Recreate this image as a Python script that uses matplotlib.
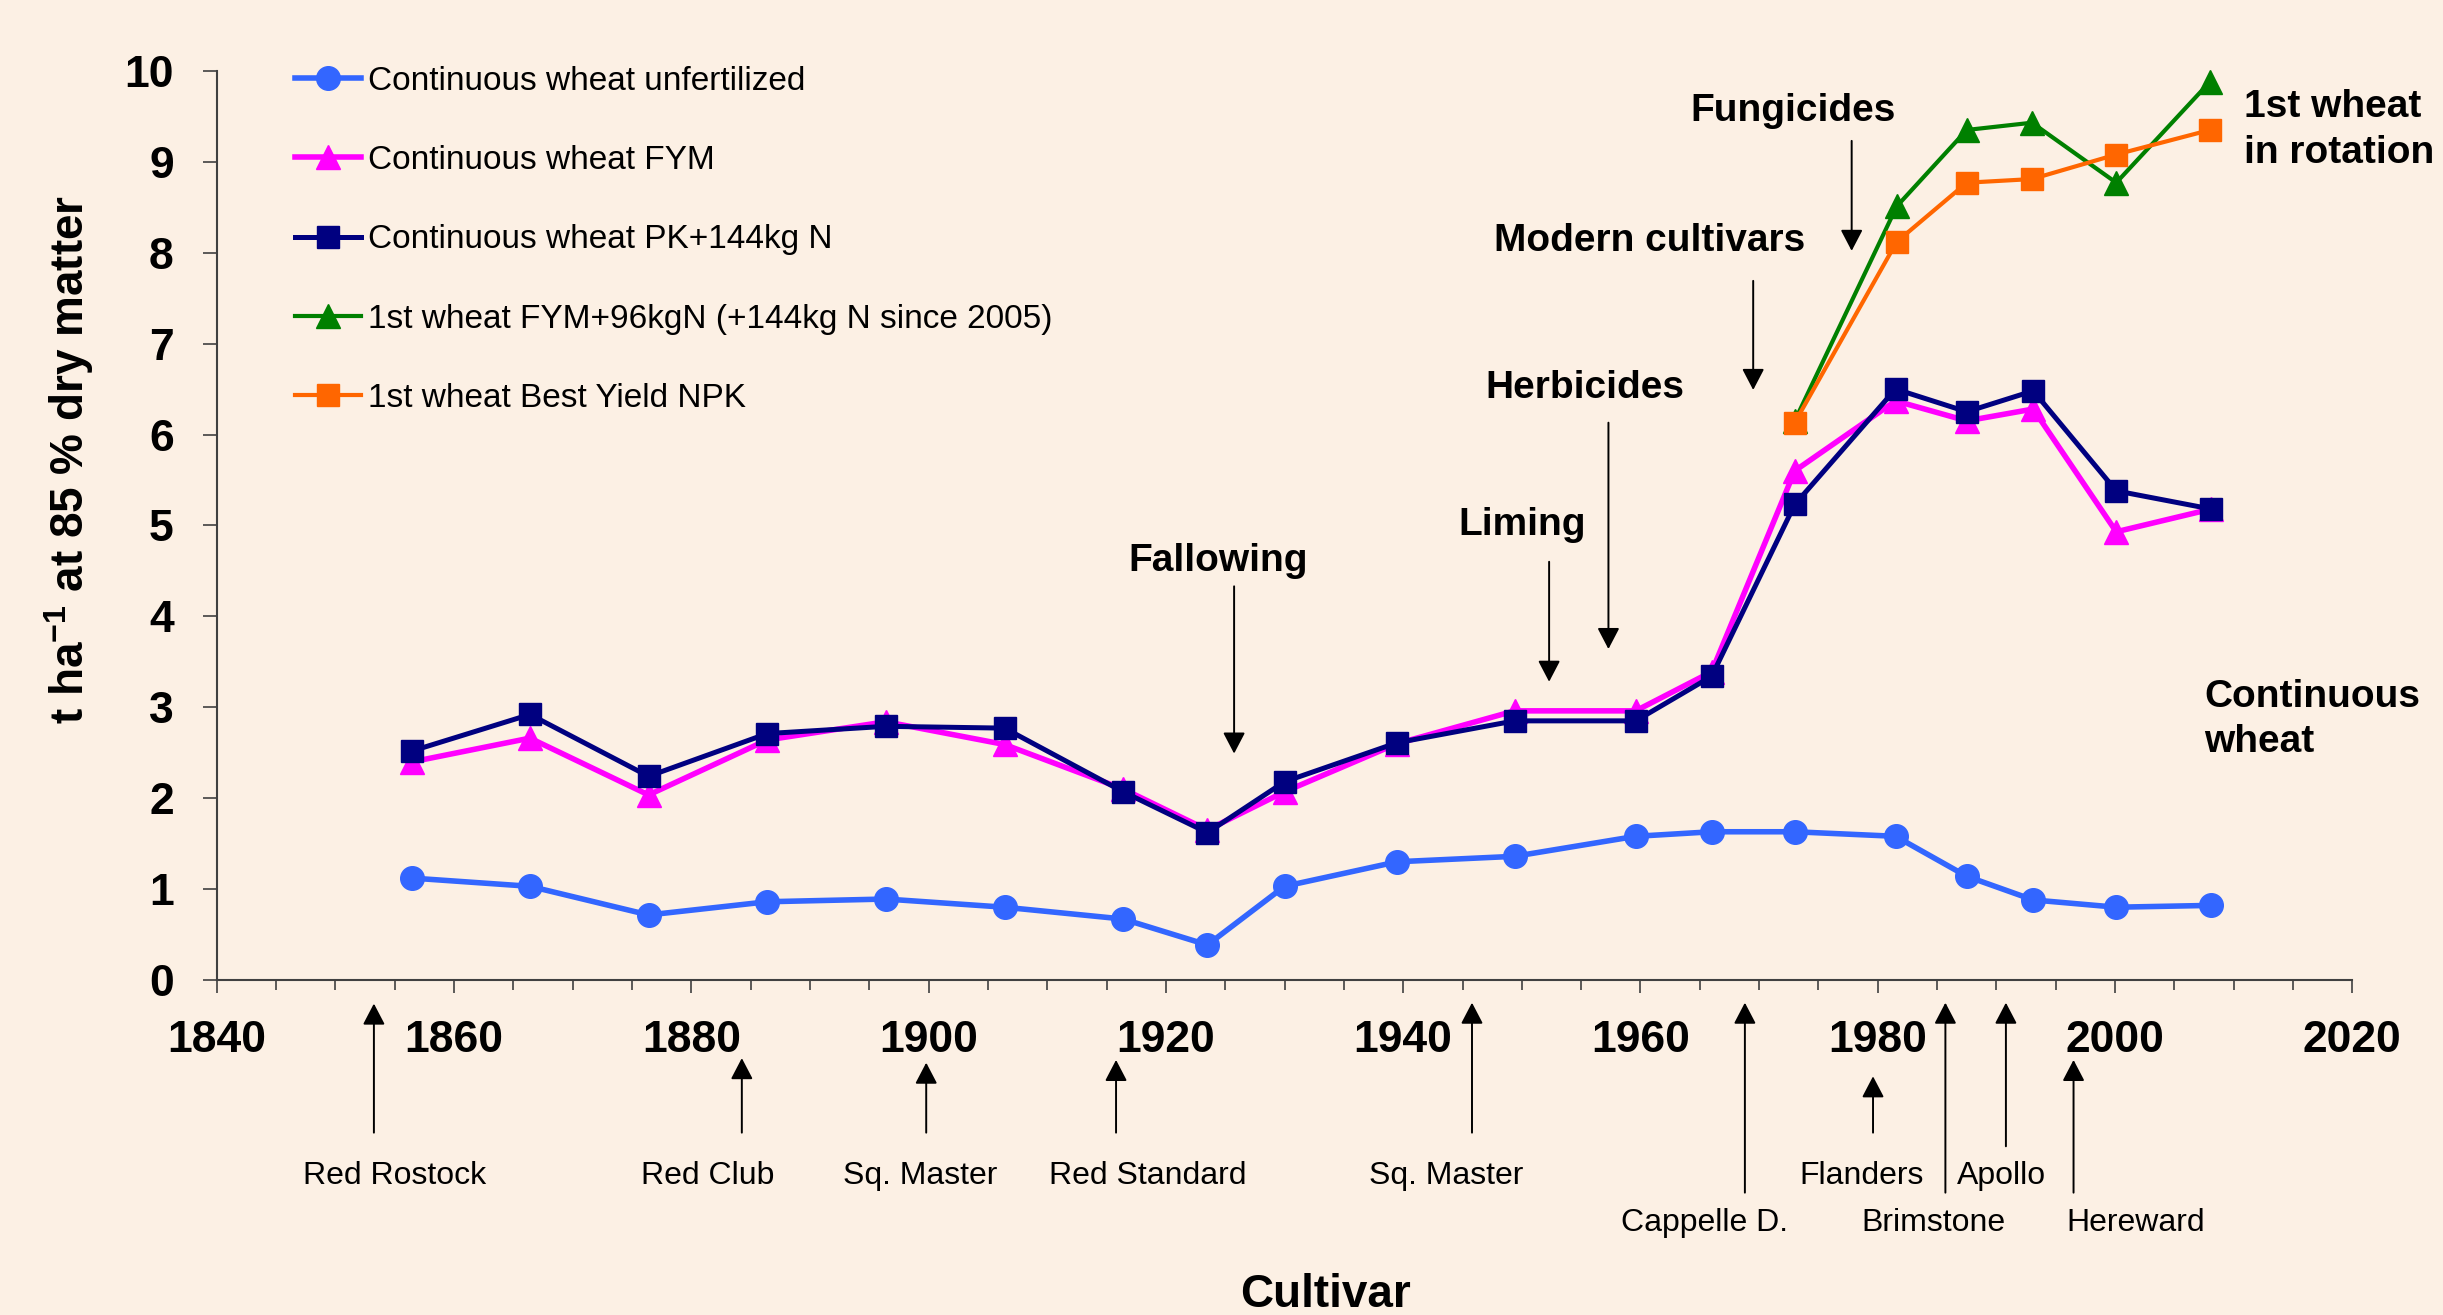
import matplotlib
matplotlib.use("Agg")
import matplotlib.pyplot as plt
from matplotlib.ticker import MultipleLocator

plt.rcParams['font.family'] = ['Liberation Sans', 'DejaVu Sans']
plt.rcParams['mathtext.fontset'] = 'custom'
plt.rcParams['mathtext.rm'] = 'Liberation Sans'
plt.rcParams['mathtext.bf'] = 'Liberation Sans:bold'

# decade means, continuous wheat (19 points)
years = [1856.5, 1866.4, 1876.4, 1886.4, 1896.4, 1906.4, 1916.4, 1923.5, 1930.0,
         1939.5, 1949.4, 1959.6, 1966.0, 1973.0, 1981.5, 1987.5, 1993.1, 2000.1, 2008.1]
unfertilized = [1.12, 1.03, 0.715, 0.86, 0.89, 0.80, 0.67, 0.385, 1.03,
                1.30, 1.36, 1.58, 1.63, 1.63, 1.58, 1.14, 0.88, 0.80, 0.82]
fym = [2.40, 2.66, 2.035, 2.64, 2.84, 2.59, 2.10, 1.65, 2.07,
       2.60, 2.96, 2.96, 3.39, 5.60, 6.37, 6.15, 6.28, 4.93, 5.18]
pk_n = [2.52, 2.92, 2.24, 2.71, 2.79, 2.77, 2.07, 1.62, 2.18,
        2.61, 2.85, 2.85, 3.34, 5.23, 6.50, 6.25, 6.48, 5.38, 5.18]

# 1st wheat in rotation
rot_years = [1973.0, 1981.6, 1987.5, 1993.0, 2000.1, 2008.0]
fym_96n = [6.15, 8.51, 9.35, 9.43, 8.77, 9.88]
best_npk = [6.13, 8.12, 8.77, 8.81, 9.08, 9.35]

labels = ["Continuous wheat unfertilized", "Continuous wheat FYM",
          "Continuous wheat PK+144kg N", "1st wheat FYM+96kgN (+144kg N since 2005)",
          "1st wheat Best Yield NPK"]

# events: (text, text x, text y, arrow x, arrow top, arrow tip)
events = [("Fallowing", 1924.4, 4.61, 1925.75, 4.33, 2.49),
          ("Liming", 1950.0, 5.00, 1952.3, 4.60, 3.28),
          ("Herbicides", 1955.3, 6.51, 1957.3, 6.13, 3.64),
          ("Modern cultivars", 1960.8, 8.13, 1969.5, 7.69, 6.49),
          ("Fungicides", 1972.9, 9.56, 1977.8, 9.23, 8.02)]

# cultivars: (name, label x, label row, arrow x, arrow tip, arrow base)
cultivars = [("Red Rostock", 1855.0, 0, 1853.25, -0.26, -1.68),
             ("Red Club", 1881.4, 0, 1884.26, -0.86, -1.68),
             ("Sq. Master", 1899.3, 0, 1899.8, -0.91, -1.68),
             ("Red Standard", 1918.5, 0, 1915.8, -0.88, -1.68),
             ("Sq. Master", 1943.6, 0, 1945.8, -0.25, -1.68),
             ("Cappelle D.", 1965.4, 1, 1968.8, -0.25, -2.34),
             ("Flanders", 1978.6, 0, 1979.6, -1.06, -1.68),
             ("Brimstone", 1984.7, 1, 1985.7, -0.25, -2.34),
             ("Apollo", 1990.4, 0, 1990.8, -0.25, -1.83),
             ("Hereward", 2001.7, 1, 1996.5, -0.88, -2.34)]
label_rows = [-2.155, -2.675]

bg = '#FCF0E4'
fig = plt.figure(figsize=(24.43, 13.15), dpi=100, facecolor=bg)
ax = fig.add_axes([0.0887, 0.2548, 0.8742, 0.6913], facecolor=bg)

ax.plot(years, unfertilized, color='#3366FF', lw=4.0, marker='o', ms=17, label=labels[0], clip_on=False)
ax.plot(years, fym, color='#FF00FF', lw=4.0, marker='^', ms=17, label=labels[1], clip_on=False)
ax.plot(years, pk_n, color='#000080', lw=3.6, marker='s', ms=16, label=labels[2], clip_on=False)
ax.plot(rot_years, fym_96n, color='#008000', lw=3.0, marker='^', ms=17, label=labels[3], clip_on=False)
ax.plot(rot_years, best_npk, color='#FF6600', lw=3.0, marker='s', ms=16, label=labels[4], clip_on=False)

ax.set_xlim(1840, 2020)
ax.set_ylim(0, 10)
ax.xaxis.set_major_locator(MultipleLocator(20))
ax.xaxis.set_minor_locator(MultipleLocator(5))
ax.yaxis.set_major_locator(MultipleLocator(1))
for s in ['top', 'right']:
    ax.spines[s].set_visible(False)
for s in ['left', 'bottom']:
    ax.spines[s].set_color('#404040')
    ax.spines[s].set_linewidth(1.5)
ax.tick_params(axis='x', which='major', length=9.5, width=1.2, color='#404040', pad=19,
               labelsize=32)
ax.tick_params(axis='x', which='minor', length=7, width=1.2, color='#404040')
ax.tick_params(axis='y', length=10, width=1.2, color='#404040', pad=21, labelsize=32)
for t in ax.get_xticklabels() + ax.get_yticklabels():
    t.set_fontweight('bold')

arrow = dict(arrowstyle='-|>,head_length=0.9,head_width=0.47', mutation_scale=14.4,
             lw=1.4, color='black', shrinkA=0, shrinkB=0)

for name, tx, ty, axx, top, tip in events:
    ax.text(tx, ty, name, fontsize=28, fontweight='bold', ha='center', va='center')
    ax.annotate('', xy=(axx, tip), xytext=(axx, top), arrowprops=arrow, annotation_clip=False)

ax.text(2010.9, 9.35, "1st wheat\nin rotation", fontsize=28, fontweight='bold',
        ha='left', va='center', linespacing=1.38, clip_on=False)
ax.text(2007.5, 2.865, "Continuous\nwheat", fontsize=28, fontweight='bold',
        ha='left', va='center', linespacing=1.32, clip_on=False)

for name, lx, row, axx, tip, base in cultivars:
    ax.text(lx, label_rows[row], name, fontsize=23, ha='center', va='center', clip_on=False)
    ax.annotate('', xy=(axx, tip), xytext=(axx, base), arrowprops=arrow, annotation_clip=False)

fig.text(69 / 2443, 1 - 459 / 1315, 't ha$^{\\mathbf{-1}}$ at 85 % dry matter', rotation=90,
         fontsize=33, fontweight='bold', ha='center', va='center')
fig.text(1325.5 / 2443, 1 - 1295 / 1315, 'Cultivar', fontsize=33, fontweight='bold',
         ha='center', va='center')

ax.legend(loc='upper left', bbox_to_anchor=(0.1206, 0.950), bbox_transform=fig.transFigure,
          frameon=False, fontsize=24, borderpad=0, borderaxespad=0, handlelength=2.0,
          handletextpad=0.2, labelspacing=1.45, numpoints=1)

fig.savefig('out.png', dpi=100, facecolor=bg)
